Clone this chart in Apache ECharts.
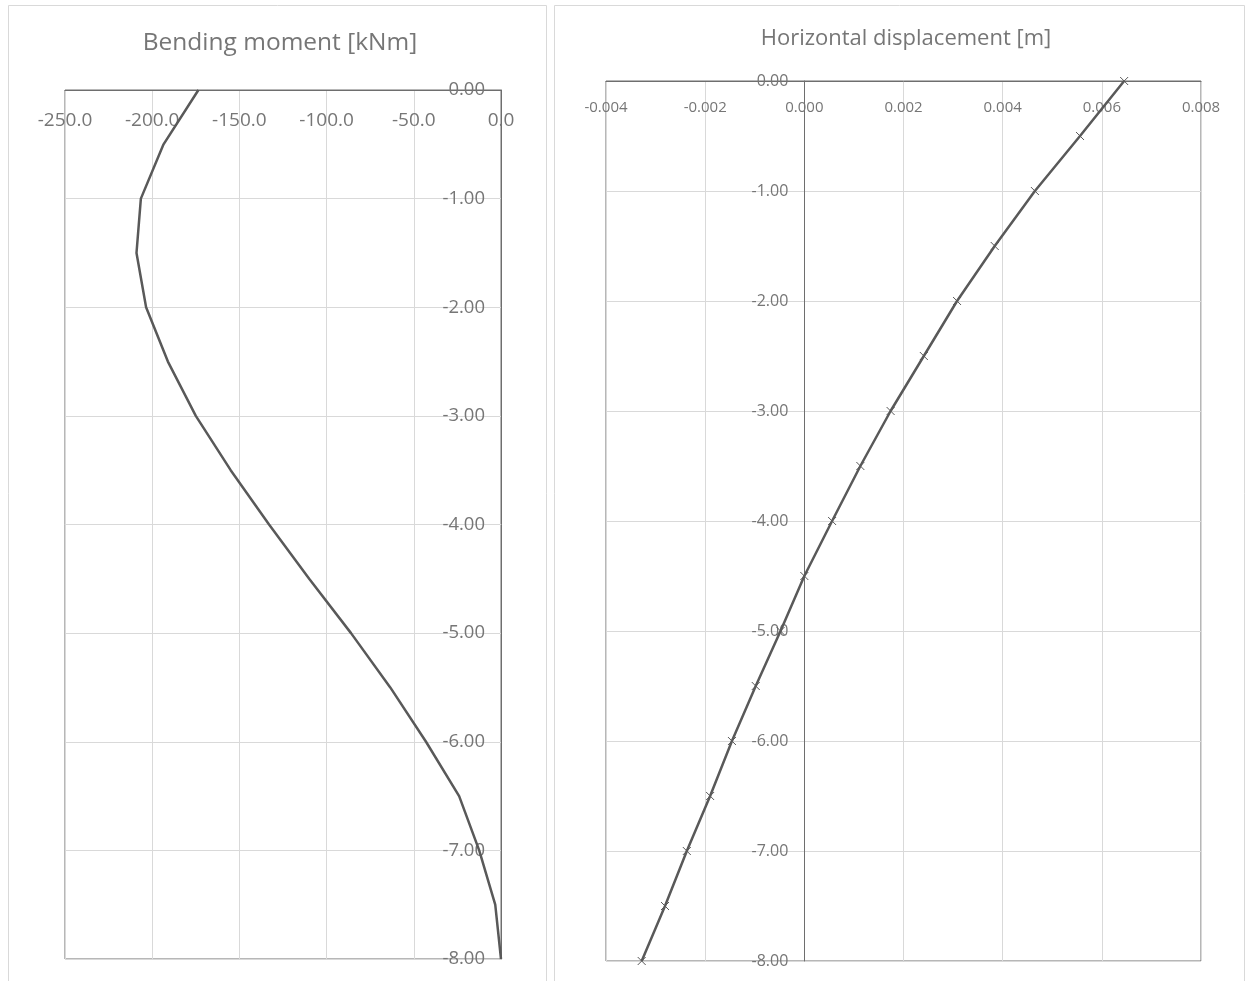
<!DOCTYPE html>
<html>
<head>
<meta charset="utf-8">
<script src="https://cdn.jsdelivr.net/npm/echarts@6/dist/echarts.min.js"></script>
<style>
html,body{margin:0;padding:0;background:#fff;}
#c{width:1250px;height:981px;}
</style>
</head>
<body>
<div id="c"></div>
<script>
// Depth (m), shared by both charts
const depths = [0, -0.5, -1, -1.5, -2, -2.5, -3, -3.5, -4, -4.5, -5, -5.5, -6, -6.5, -7, -7.5, -8];
// Bending moment [kNm]
const moment = [-173.5, -193.5, -206.5, -209, -203.5, -191, -175, -155, -133, -110, -86, -63.5, -43, -24, -12.5, -3.3, 0];
// Horizontal displacement [m]
const displacement = [0.00645, 0.00556, 0.00465, 0.00384, 0.00308, 0.00241, 0.00174, 0.00113, 0.00056, 0.0, -0.00048, -0.00098, -0.00146, -0.0019, -0.00237, -0.00281, -0.00328];

const titleLeft = 'Bending moment [kNm]';
const titleRight = 'Horizontal displacement [m]';

const FONT = '"Open Sans", "DejaVu Sans", sans-serif';
const TXT = '#767676';
const AXIS = '#6e6e6e';
const GRIDC = '#d9d9d9';
const LINEC = '#595959';

const chart = echarts.init(document.getElementById('c'), null, {renderer: 'canvas'});

function xAx(gridIndex, min, max, interval, decimals, fs, margin) {
  return {
    type: 'value', gridIndex, min, max, interval, position: 'top',
    axisLine: {show: true, onZero: false, lineStyle: {color: AXIS, width: 1}},
    axisTick: {show: false},
    axisLabel: {inside: true, margin, color: TXT, fontFamily: FONT, fontSize: fs,
      formatter: v => v.toFixed(decimals)},
    splitLine: {show: true, lineStyle: {color: GRIDC, width: 1}}
  };
}
function yAx(gridIndex, fs, margin, offset) {
  return {
    type: 'value', gridIndex, min: -8, max: 0, interval: 1, position: 'right', offset,
    axisLine: {show: true, onZero: false, lineStyle: {color: AXIS, width: 1}},
    axisTick: {show: false},
    axisLabel: {inside: true, margin, color: TXT, fontFamily: FONT, fontSize: fs,
      formatter: v => v.toFixed(2)},
    splitLine: {show: true, lineStyle: {color: GRIDC, width: 1}}
  };
}

chart.setOption({
  animation: false,
  backgroundColor: '#ffffff',
  graphic: [
    {type: 'rect', shape: {x: 8.5, y: 5.5, width: 538, height: 990}, style: {fill: 'none', stroke: '#d9d9d9', lineWidth: 1}, z: -10},
    {type: 'rect', shape: {x: 554.5, y: 5.5, width: 690, height: 990}, style: {fill: 'none', stroke: '#d9d9d9', lineWidth: 1}, z: -10}
  ],
  title: [
    {text: titleLeft, left: 275, top: 26, textAlign: 'center',
      textStyle: {color: TXT, fontFamily: FONT, fontSize: 24.5, fontWeight: 'normal'}},
    {text: titleRight, left: 901, top: 23, textAlign: 'center',
      textStyle: {color: TXT, fontFamily: FONT, fontSize: 22, fontWeight: 'normal'}}
  ],
  grid: [
    {left: 65, top: 90, width: 436, height: 869, show: true, borderColor: AXIS, borderWidth: 1, backgroundColor: 'transparent'},
    {left: 606, top: 81, width: 595, height: 880, show: true, borderColor: AXIS, borderWidth: 1, backgroundColor: 'transparent'}
  ],
  xAxis: [
    xAx(0, -250, 0, 50, 1, 19, 21),
    xAx(1, -0.004, 0.008, 0.002, 3, 15, 19)
  ],
  yAxis: [
    yAx(0, 18.5, 16, 0),
    yAx(1, 16, 16, -(595 * 8 / 12))
  ],
  series: [
    {type: 'line', xAxisIndex: 0, yAxisIndex: 0,
      data: depths.map((d, i) => [moment[i], d]),
      showSymbol: false, symbol: 'none',
      lineStyle: {color: LINEC, width: 2.5}, z: 5},
    {type: 'line', xAxisIndex: 1, yAxisIndex: 1,
      data: depths.map((d, i) => [displacement[i], d]),
      symbol: 'path://M0,0L10,10M10,0L0,10', symbolSize: 8,
      itemStyle: {color: 'none', borderColor: LINEC, borderWidth: 1},
      lineStyle: {color: LINEC, width: 2.5}, z: 5}
  ]
});
</script>
</body>
</html>
